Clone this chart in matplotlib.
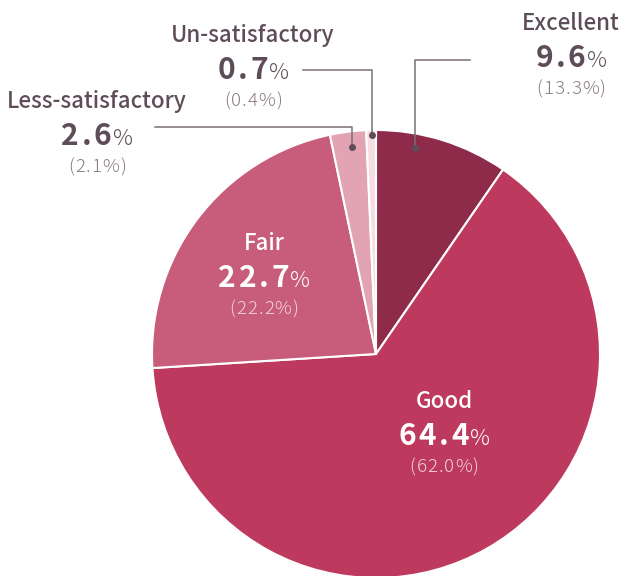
import matplotlib.pyplot as plt

categories = ["Excellent", "Good", "Fair", "Less-satisfactory", "Un-satisfactory"]
shares = [9.6, 64.4, 22.7, 2.6, 0.7]
prev_shares = [13.3, 62.0, 22.2, 2.1, 0.4]
colors = ["#8e2a4a", "#bd395d", "#c75d7a", "#e2a3b2", "#f6dde3"]

FONT = ["Noto Sans CJK JP", "DejaVu Sans"]
W, H = 624, 576

fig = plt.figure(figsize=(W / 100, H / 100), dpi=100)
ax = fig.add_axes([0, 0, 1, 1])

cx, cy, r = 376, H - 354, 224
wedges, _ = ax.pie(
    shares,
    colors=colors,
    startangle=90,
    counterclock=False,
    center=(cx, cy),
    radius=r,
    wedgeprops=dict(edgecolor="white", linewidth=1.5),
)
ax.set_xlim(0, W)
ax.set_ylim(0, H)
ax.set_aspect("equal")
ax.axis("off")

renderer = fig.canvas.get_renderer()


def spaced(parts, x, y, gap=1.0):
    """Draw runs of (text, style, tracking) side by side, centred on x."""
    items = []
    for s, style, track in parts:
        for i, ch in enumerate(s):
            t = ax.text(0, y, ch, ha="left", va="baseline", family=FONT, **style)
            w = t.get_window_extent(renderer).width
            items.append((t, w, track if i < len(s) - 1 else gap))
    total = sum(w + tr for _, w, tr in items) - items[-1][2]
    pos = x - total / 2
    for t, w, tr in items:
        t.set_x(pos)
        pos += w + tr


def label_block(x, y, name, share, prev, inside):
    # y is the category-label baseline in pixel rows from the top
    c_main = "white" if inside else "#5e4d58"
    c_sub = "#f1d0d9" if inside else "#8c7f87"
    ax.text(x, H - y, name, ha="center", va="baseline", fontsize=16,
            fontweight="medium", color=c_main, family=FONT)
    big = dict(fontsize=21.5, fontweight="bold", color=c_main)
    pct = dict(fontsize=16, fontweight="light", color=c_main)
    spaced([(f"{share:.1f}", big, 2.6), ("%", pct, 0)], x, H - y - 37)
    sub = dict(fontsize=13.5, fontweight="light", color=c_sub)
    spaced([(f"({prev:.1f}%)", sub, 0.9)], x, H - y - 64)


# outside labels with leader lines
label_block(571, 30, categories[0], shares[0], prev_shares[0], False)
label_block(253, 42, categories[4], shares[4], prev_shares[4], False)
label_block(97, 108, categories[3], shares[3], prev_shares[3], False)
# inside labels
label_block(264, 250, categories[2], shares[2], prev_shares[2], True)
label_block(444, 408, categories[1], shares[1], prev_shares[1], True)

leaders = [
    ([470, 415, 415], [60, 60, 148]),
    ([303, 372, 372], [70, 70, 135]),
    ([155, 352, 352], [127, 127, 147]),
]
for xs, ys in leaders:
    ax.plot(xs, [H - v for v in ys], color="#7a6f75", linewidth=1.1)
    ax.plot(xs[-1], H - ys[-1], "o", color="#5e4d58", markersize=4)

fig.savefig("out.png", dpi=100)
